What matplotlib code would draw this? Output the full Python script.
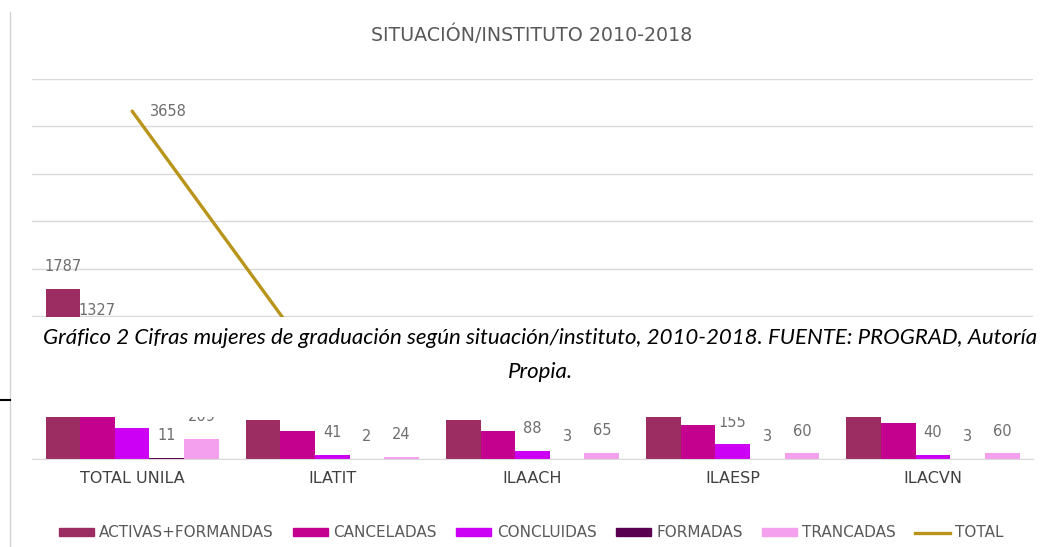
import matplotlib.pyplot as plt
from matplotlib.patches import Rectangle
from matplotlib.lines import Line2D
import numpy as np

# Data (values hidden by the caption are estimated)
categories = ['TOTAL UNILA', 'ILATIT', 'ILAACH', 'ILAESP', 'ILACVN']
activas = [1787, 410, 410, 440, 527]
canceladas = [1327, 295, 295, 360, 377]
concluidas = [324, 41, 88, 155, 40]
formadas = [11, 2, 3, 3, 3]
trancadas = [209, 24, 65, 60, 60]
total = [3658, 772, 861, 1018, 1007]

series_names = ['ACTIVAS+FORMANDAS', 'CANCELADAS', 'CONCLUIDAS', 'FORMADAS', 'TRANCADAS']
series_vals = [activas, canceladas, concluidas, formadas, trancadas]
colors = ['#9B2D62', '#C4008F', '#CC00F5', '#5A0050', '#F4A0EE']
gold = '#B8951A'
label_color = '#6e6e6e'

fig = plt.figure(figsize=(10.46, 5.47), dpi=100)
ax = fig.add_axes([0.0306, 0.1609, 0.9570, 0.6954])

x = np.arange(len(categories))
w = 0.173
for i, (vals, col, name) in enumerate(zip(series_vals, colors, series_names)):
    bars = ax.bar(x + (i - 2) * w, vals, w, color=col, label=name, zorder=2)
    for b, v in zip(bars, vals):
        ax.annotate(str(v), (b.get_x() + b.get_width() / 2, v), xytext=(0, 16),
                    textcoords='offset points', ha='center', va='center',
                    fontsize=10.5, color=label_color)

ax.plot(x, total, color=gold, lw=2.4, zorder=3, solid_capstyle='round')
for xi, v in zip(x, total):
    ax.annotate(str(v), (xi, v), xytext=(13, 0), textcoords='offset points',
                ha='left', va='center', fontsize=10.5, color=label_color)

ax.set_xlim(-0.5, 4.5)
ax.set_ylim(0, 4000)
ax.set_yticks(np.arange(0, 4001, 500))
ax.yaxis.grid(True, color='#d9d9d9', lw=1)
ax.set_axisbelow(True)
ax.tick_params(axis='y', length=0, labelleft=False)
ax.set_xticks(x)
ax.set_xticklabels(categories)
ax.tick_params(axis='x', length=0, pad=9, labelsize=11.5, labelcolor='#404040')
for s in ['top', 'left', 'right']:
    ax.spines[s].set_visible(False)
ax.spines['bottom'].set_color('#d9d9d9')

fig.text(0.5086, 0.936, 'SITUACIÓN/INSTITUTO 2010-2018', ha='center', va='center',
         fontsize=13.7, color='#595959')

handles = [Rectangle((0, 0), 1, 1, color=c) for c in colors]
handles.append(Line2D([0], [0], color=gold, lw=2.4))
fig.legend(handles, series_names + ['TOTAL'], loc='center', bbox_to_anchor=(0.508, 0.026),
           ncol=6, frameon=False, fontsize=11, handlelength=2.3, handleheight=0.45,
           handletextpad=0.35, columnspacing=1.25, labelcolor='#595959')

# caption box lying over the chart
fig.add_artist(Rectangle((0.0096, 0.2377), 0.9904, 0.1828, transform=fig.transFigure,
                         facecolor='white', edgecolor='none', zorder=10))
cap_font = dict(family=['Lato', 'DejaVu Sans'], style='italic', weight='normal',
                fontsize=16, color='black', ha='center', va='center', zorder=11)
fig.text(0.5163, 0.382, 'Gráfico 2 Cifras mujeres de graduación según situación/instituto, '
         '2010-2018. FUENTE: PROGRAD, Autoría', **cap_font)
fig.text(0.5163, 0.320, 'Propia.', **cap_font)

# page border bits
fig.add_artist(Line2D([0.0091, 0.0091], [0, 0.978], transform=fig.transFigure,
                      color='#d4d4d4', lw=1, zorder=12))
fig.add_artist(Line2D([0, 0.0091], [0.269, 0.269], transform=fig.transFigure,
                      color='black', lw=1.5, zorder=12))

fig.savefig('out.png', dpi=100)
